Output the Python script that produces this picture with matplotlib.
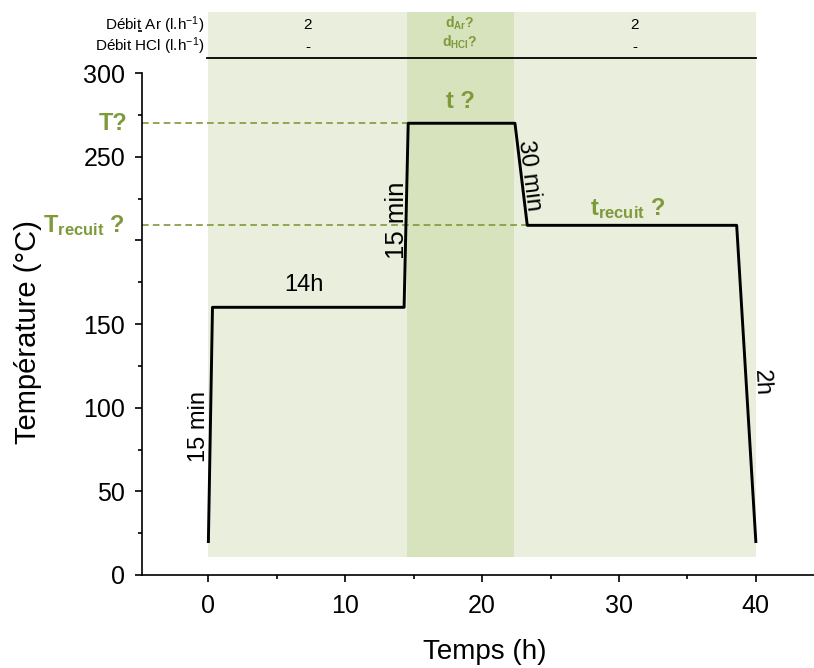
import matplotlib
matplotlib.use("Agg")
import matplotlib.pyplot as plt
from matplotlib.ticker import MultipleLocator

plt.rcParams['font.family'] = ['Liberation Sans', 'DejaVu Sans']
plt.rcParams['mathtext.default'] = 'regular'

# temperature profile (h, °C)
temps_h = [0, 0.3, 14.3, 14.6, 22.4, 23.3, 38.6, 40.0]
temp_c = [20, 160, 160, 270, 270, 209, 209, 20]

# zones (start, end) and table values
zones = [(0, 14.5), (14.5, 22.3), (22.3, 40)]
zone_colors = ['#EAEEDD', '#D7E3BC', '#EAEEDD']
debit_ar = ['2', r'd$_{Ar}$?', '2']
debit_hcl = ['-', r'd$_{HCl}$?', '-']
T_plateau = 270
T_recuit = 209
yticks = [0, 50, 100, 150, 200, 250, 300]
ytick_labels = ['0', '50', '100', '150', '', '250', '300']

green = '#7E9A3A'

fig = plt.figure(figsize=(8.14, 6.68), dpi=100)
ax = fig.add_axes([142 / 814, 1 - 575 / 668, 1 - 142 / 814, (575 - 12) / 668])
ax.set_xlim(-4.85, 44.25)
ax.set_ylim(0, 336.5)

# shading
for (a, b), c in zip(zones, zone_colors):
    ax.axvspan(a, b, ymin=10.5 / 336.5, ymax=1, color=c, lw=0, zorder=0)

# dashed guide lines
ax.plot([-4.85, 14.6], [T_plateau, T_plateau], ls='--', color=green, lw=1.2, dashes=(4, 2.5))
ax.plot([-4.85, 23.3], [T_recuit, T_recuit], ls='--', color=green, lw=1.2, dashes=(4, 2.5))

ax.plot(temps_h, temp_c, color='black', lw=2.1, zorder=3)

# table
ax.plot([-0.1, 40], [309, 309], color='black', lw=1.3, clip_on=False)
ax.text(-0.3, 328.5, r'Débit Ar (l.h$^{-1}$)', ha='right', va='center', fontsize=11)
ax.text(-0.3, 315.8, r'Débit HCl (l.h$^{-1}$)', ha='right', va='center', fontsize=11)
for (a, b), ar, hcl in zip(zones, debit_ar, debit_hcl):
    xc = (a + b) / 2
    if '$' in ar:
        ax.text(xc, 329.5, ar, ha='center', va='center', fontsize=10, color=green,
                fontweight='bold')
        ax.text(xc, 318.5, hcl, ha='center', va='center', fontsize=10, color=green,
                fontweight='bold')
    else:
        ax.text(xc, 328.5, ar, ha='center', va='center', fontsize=11)
        ax.text(xc, 315.8, hcl, ha='center', va='center', fontsize=11)

# annotations
ax.text(-5.9, T_plateau, 'T?', ha='right', va='center', fontsize=17, color=green,
        fontweight='bold', clip_on=False)
ax.text(-6.1, T_recuit, r'T$_{recuit}$ ?', ha='right', va='center', fontsize=17, color=green,
        fontweight='bold', clip_on=False)
ax.text(18.4, 283, 't ?', ha='center', va='center', fontsize=17, color=green, fontweight='bold')
ax.text(30.6, 219, r't$_{recuit}$ ?', ha='center', va='center', fontsize=17, color=green,
        fontweight='bold')
ax.text(7.0, 173.5, '14h', ha='center', va='center', fontsize=17)
ax.text(-0.65, 88.5, '15 min', ha='center', va='center', fontsize=17, rotation=90)
ax.text(13.75, 212, '15 min', ha='center', va='center', fontsize=18.5, rotation=90)
ax.text(23.45, 239, '30 min', ha='center', va='center', fontsize=17, rotation=-83)
ax.text(40.4, 115, '2h', ha='center', va='center', fontsize=17, rotation=-87)

# axes styling
ax.spines['top'].set_visible(False)
ax.spines['right'].set_visible(False)
ax.spines['left'].set_bounds(0, 300)
for s in ['left', 'bottom']:
    ax.spines[s].set_linewidth(1.2)
ax.set_yticks(yticks)
ax.set_yticklabels(ytick_labels)
ax.yaxis.set_minor_locator(MultipleLocator(25))
ax.set_xticks(range(0, 41, 10))
ax.xaxis.set_minor_locator(MultipleLocator(5))
ax.tick_params(which='major', length=5, width=1.2, labelsize=18, direction='out')
ax.tick_params(which='minor', length=3, width=1.2, direction='out')
ax.tick_params(axis='x', pad=9)
ax.tick_params(axis='y', pad=7)

ax.set_xlabel('Temps (h)', fontsize=20)
ax.xaxis.set_label_coords((485 - 142) / 672, -(639 - 575) / 563)
ax.set_ylabel('Température (°C)', fontsize=21)
ax.yaxis.set_label_coords(-(142 - 42) / 672, 1 - (332 - 12) / 563)

fig.savefig('out.png', dpi=100)
